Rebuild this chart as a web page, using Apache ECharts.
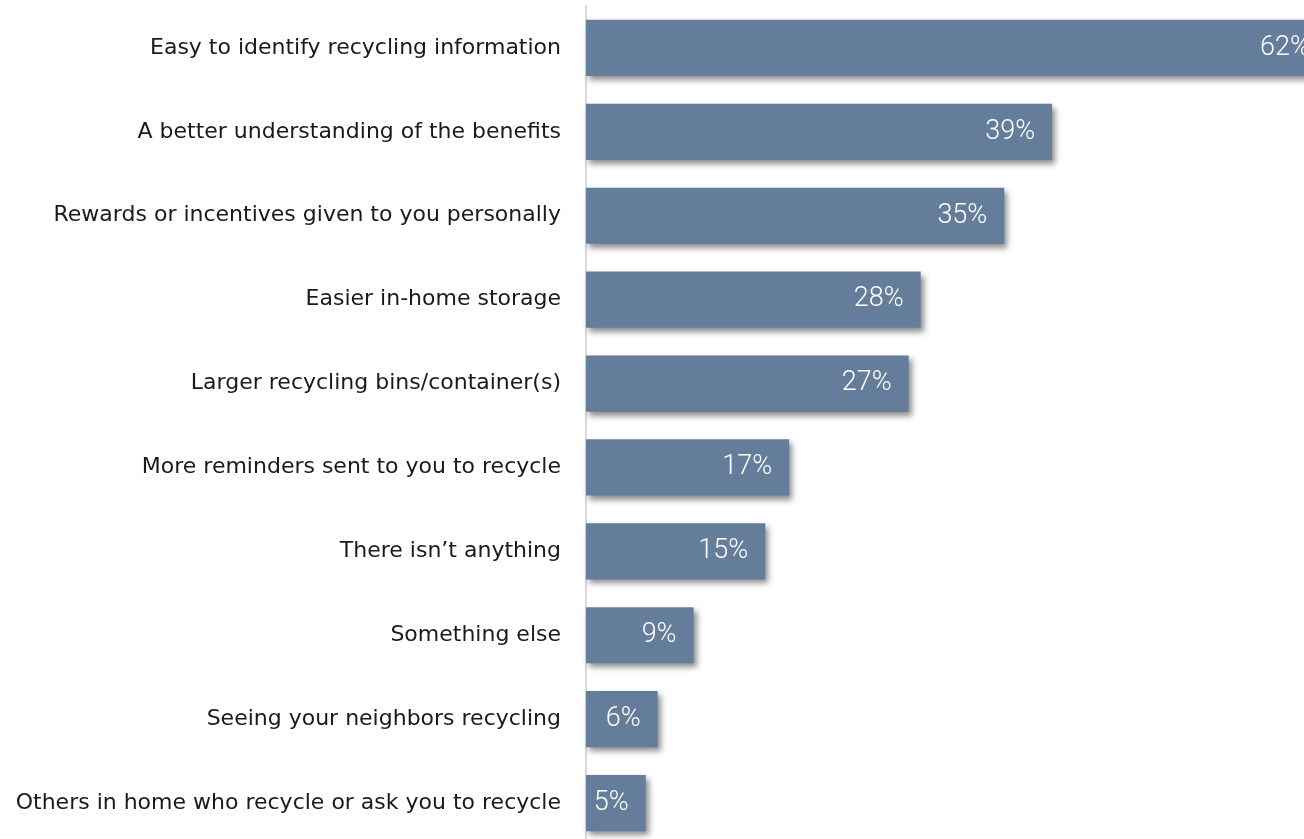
<!DOCTYPE html>
<html><head><meta charset="utf-8">
<script src="https://cdn.jsdelivr.net/npm/echarts@6/dist/echarts.min.js"></script>
<style>html,body{margin:0;padding:0;background:#fff;}#c{width:1304px;height:839px;}</style>
</head><body><div id="c"></div>
<script>
const categories = [
  "Easy to identify recycling information",
  "A better understanding of the benefits",
  "Rewards or incentives given to you personally",
  "Easier in-home storage",
  "Larger recycling bins/container(s)",
  "More reminders sent to you to recycle",
  "There isn\u2019t anything",
  "Something else",
  "Seeing your neighbors recycling",
  "Others in home who recycle or ask you to recycle"
];
const values = [62, 39, 35, 28, 27, 17, 15, 9, 6, 5];

const chart = echarts.init(document.getElementById('c'));
chart.setOption({
  animation: false,
  grid: {left: 586, right: -23, top: 6, bottom: -6, containLabel: false, outerBoundsMode: 'none'},
  xAxis: {type: 'value', min: 0, max: 62, show: false},
  yAxis: {
    type: 'category', data: categories, inverse: true,
    axisLine: {show: true, lineStyle: {color: '#d9d9d9', width: 2}},
    axisTick: {show: false},
    axisLabel: {margin: 25, fontSize: 22, color: '#1a1a1a',
      fontFamily: '"DejaVu Sans", sans-serif'}
  },
  series: [{
    type: 'bar', data: values, barCategoryGap: '33%', clip: false,
    itemStyle: {color: '#647D9B', shadowColor: 'rgba(0,0,0,0.45)', shadowBlur: 6, shadowOffsetX: 3, shadowOffsetY: 4},
    label: {show: true, position: 'insideRight', distance: 17, color: '#fff', fontSize: 27, fontWeight: 300,
      fontFamily: 'Roboto, "Open Sans", sans-serif', formatter: '{c}%'}
  }]
});
</script></body></html>
